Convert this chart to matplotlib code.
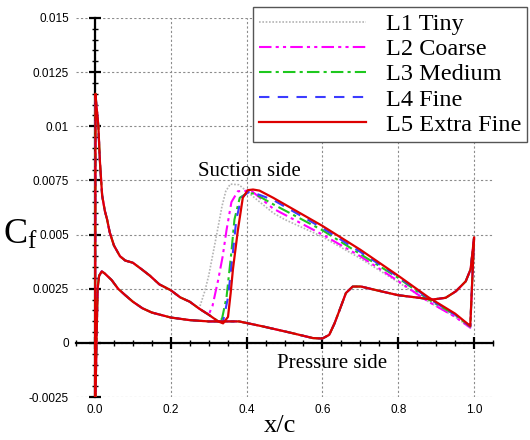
import numpy as np
import matplotlib
matplotlib.use('Agg')
import matplotlib.pyplot as plt
from matplotlib.ticker import MultipleLocator, FuncFormatter

plt.rcParams['font.family'] = ['Liberation Sans', 'DejaVu Sans']
plt.rcParams['mathtext.fontset'] = 'custom'
plt.rcParams['mathtext.rm'] = 'Liberation Serif'
plt.rcParams['mathtext.it'] = 'Liberation Serif:italic'

# ---- data ----
# suction side, laminar part shared by every grid (leading edge -> x/c = 0.3)
x_lam = [0.0, 0.0015, 0.004, 0.006, 0.009, 0.013, 0.019, 0.026, 0.032, 0.039, 0.05,
         0.066, 0.08, 0.10, 0.123, 0.145, 0.17, 0.20, 0.225, 0.25, 0.275, 0.30]
cf_lam = [-0.004, 0.0115, 0.0109, 0.0106, 0.0100, 0.0084, 0.0068, 0.0061, 0.0057, 0.0051, 0.0045,
          0.0040, 0.0038, 0.0037, 0.0034, 0.0031, 0.0027, 0.00243, 0.0021, 0.0019, 0.00158, 0.0013]

# suction side after transition, one per grid
x_l1 = [0.275, 0.29, 0.30, 0.32, 0.335, 0.345, 0.357, 0.38, 0.40, 0.47, 0.50, 0.60, 0.70, 0.80, 0.88, 0.95, 0.99, 1.0]
cf_l1 = [0.00158, 0.0024, 0.0031, 0.0049, 0.0063, 0.0070, 0.00733, 0.0073, 0.0070, 0.0060, 0.0057, 0.0049,
         0.0039, 0.0028, 0.0019, 0.0012, 0.0007, 0.0048]
x_l2 = [0.30, 0.31, 0.325, 0.337, 0.347, 0.36, 0.377, 0.412, 0.47, 0.60, 0.70, 0.80, 0.88, 0.95, 0.99, 1.0]
cf_l2 = [0.0013, 0.0017, 0.0029, 0.0040, 0.0052, 0.0065, 0.0070, 0.00703, 0.0062, 0.0050, 0.0040, 0.00285,
         0.0019, 0.0012, 0.0007, 0.0048]
x_l3 = [0.30, 0.325, 0.335, 0.347, 0.36, 0.368, 0.382, 0.40, 0.42, 0.47, 0.60, 0.70, 0.80, 0.88, 0.95, 0.99, 1.0]
cf_l3 = [0.0013, 0.0010, 0.0011, 0.0021, 0.0042, 0.0057, 0.0067, 0.0069, 0.0069, 0.0064, 0.0052, 0.0041,
         0.0030, 0.0020, 0.0013, 0.00075, 0.0048]
x_l4 = [0.30, 0.325, 0.338, 0.351, 0.364, 0.373, 0.386, 0.408, 0.47, 0.60, 0.70, 0.80, 0.88, 0.95, 0.99, 1.0]
cf_l4 = [0.0013, 0.0010, 0.0010, 0.0021, 0.0042, 0.0057, 0.0067, 0.0070, 0.0066, 0.0053, 0.0042, 0.00305,
         0.00205, 0.0013, 0.00077, 0.0048]
x_l5 = [0.30, 0.325, 0.338, 0.351, 0.358, 0.364, 0.377, 0.39, 0.403, 0.417, 0.434, 0.47, 0.52, 0.60, 0.70,
        0.80, 0.88, 0.95, 0.99, 1.0]
cf_l5 = [0.0013, 0.00099, 0.0009, 0.0012, 0.0023, 0.0034, 0.0052, 0.0067, 0.00705, 0.00708, 0.00703, 0.0067,
         0.0062, 0.0054, 0.0043, 0.0031, 0.0021, 0.00135, 0.00078, 0.0048]

# pressure side (all grids practically on top of each other)
x_ps = [0.0, 0.004, 0.007, 0.011, 0.018, 0.026, 0.044, 0.061, 0.08, 0.10, 0.125, 0.15, 0.20, 0.25, 0.30,
        0.38, 0.44, 0.513, 0.575, 0.60, 0.618, 0.632, 0.645, 0.662, 0.68, 0.702, 0.75, 0.80, 0.855, 0.89,
        0.925, 0.952, 0.978, 0.991, 0.996, 1.0]
cf_ps = [-0.004, 0.0, 0.0025, 0.0031, 0.0033, 0.0032, 0.0029, 0.0025, 0.0022, 0.0019, 0.0016, 0.0014,
         0.00117, 0.00105, 0.00099, 0.00099, 0.00077, 0.00048, 0.00022, 0.0002, 0.00037, 0.0009, 0.0015,
         0.0023, 0.0026, 0.0026, 0.0024, 0.0022, 0.00208, 0.0020, 0.00208, 0.00238, 0.00284, 0.0034,
         0.0042, 0.00486]

labels = ['L1 Tiny', 'L2 Coarse', 'L3 Medium', 'L4 Fine', 'L5 Extra Fine']
tails = [(x_l1, cf_l1), (x_l2, cf_l2), (x_l3, cf_l3), (x_l4, cf_l4), (x_l5, cf_l5)]

colors = ['#b4b4b4', '#ff00ff', '#1ec81e', '#3c3cff', '#dd0000']
styles = [(0, (1, 1)), (0, (6, 2, 1.5, 2, 1.5, 2)), (0, (6, 2, 1.5, 2)), (0, (5, 4)), '-']
widths = [1.2, 1.5, 1.5, 1.5, 1.6]

fig = plt.figure(figsize=(5.3, 4.4), dpi=100)
pos = [76 / 530, 43 / 440, 417 / 530, 379 / 440]

# background axes: grid + tick labels at the frame edge
ax_bg = fig.add_axes(pos)
# front axes: curves + axis lines crossing at zero
ax = fig.add_axes(pos)
ax.patch.set_visible(False)

for a in (ax_bg, ax):
    a.set_xlim(-0.05, 1.05)
    a.set_ylim(-0.0025, 0.015)
    a.xaxis.set_major_locator(MultipleLocator(0.2))
    a.xaxis.set_minor_locator(MultipleLocator(0.05))
    a.yaxis.set_major_locator(MultipleLocator(0.0025))
    a.yaxis.set_minor_locator(MultipleLocator(0.0005))

for s in ax_bg.spines.values():
    s.set_visible(False)
ax_bg.tick_params(which='both', length=0, labelsize=8.5, pad=5)
ax_bg.xaxis.set_major_formatter(FuncFormatter(lambda v, p: '%.1f' % v))
ax_bg.yaxis.set_major_formatter(FuncFormatter(lambda v, p: '%g' % round(v, 6)))
ax_bg.grid(True, which='major', color='#8c8c8c', linestyle=(0, (2, 2)), linewidth=0.8)

ax.spines['left'].set_position(('data', 0))
ax.spines['bottom'].set_position(('data', 0))
ax.spines['top'].set_visible(False)
ax.spines['right'].set_visible(False)
ax.spines['left'].set_linewidth(1.6)
ax.spines['bottom'].set_linewidth(1.6)
ax.tick_params(which='both', direction='inout', labelleft=False, labelbottom=False)
ax.tick_params(which='major', length=8, width=1.6)
ax.tick_params(which='minor', length=5, width=1.0)

for i in range(5):
    ax.plot(x_ps, cf_ps, color=colors[i], linestyle=styles[i], linewidth=widths[i], zorder=3 + i)
    xs = np.concatenate([np.array(x_lam)[np.array(x_lam) < tails[i][0][0]], tails[i][0]])
    ys = np.concatenate([np.array(cf_lam)[np.array(x_lam) < tails[i][0][0]], tails[i][1]])
    ax.plot(xs, ys, color=colors[i], linestyle=styles[i], linewidth=widths[i], zorder=3 + i,
            label=labels[i])

ax.text(0.271, 0.0077, 'Suction side', fontsize=15, family='Liberation Serif')
ax.text(0.479, -0.00115, 'Pressure side', fontsize=15, family='Liberation Serif')
fig.text(280 / 530, 1 - 432 / 440, 'x/c', fontsize=19, family='Liberation Serif',
         ha='center', va='baseline')
fig.text(20 / 530, 1 - 234 / 440, r'$\mathrm{C}_\mathrm{f}$', fontsize=26, ha='center', va='center')

leg = ax.legend(loc='upper right', bbox_to_anchor=(527 / 530, 433 / 440), bbox_transform=fig.transFigure,
                prop={'family': 'Liberation Serif', 'size': 17.5}, handlelength=4.4, handletextpad=0.8,
                labelspacing=0.13, borderpad=0.25, borderaxespad=0, fancybox=False, framealpha=1)
leg.get_frame().set_edgecolor('#555555')
leg.get_frame().set_linewidth(1.0)
leg.set_zorder(20)

plt.savefig('out.png', dpi=100)
